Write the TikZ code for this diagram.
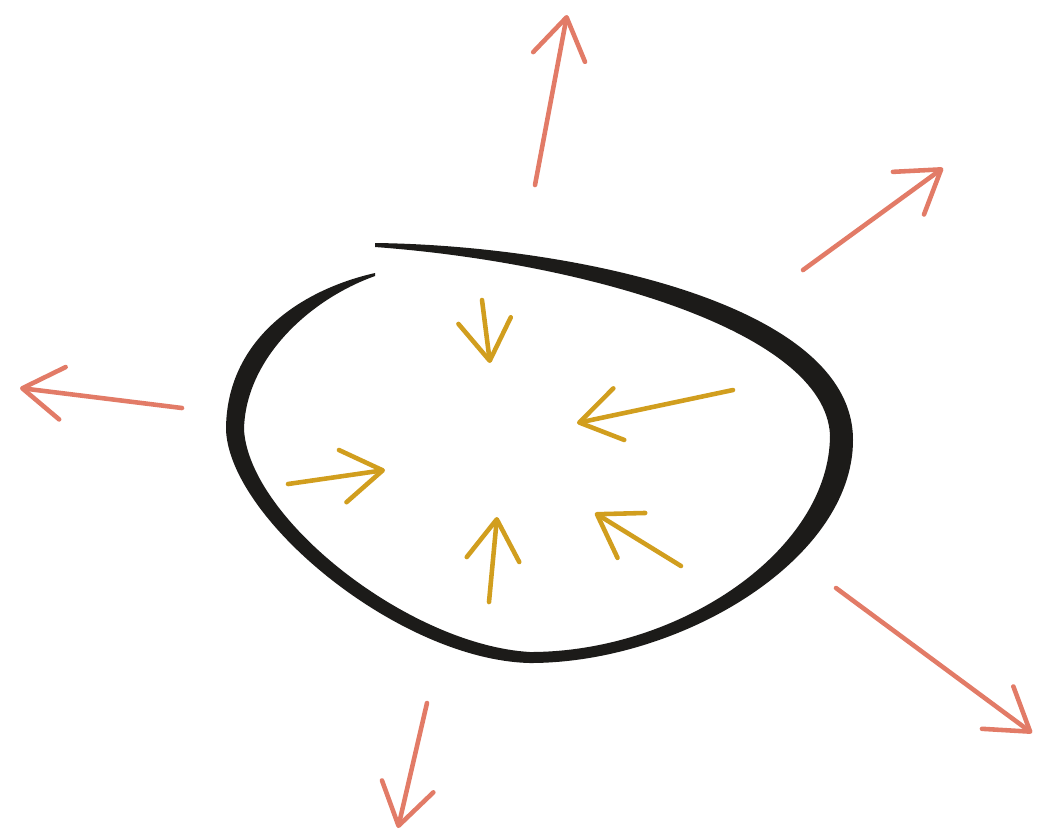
\documentclass[tikz,border=0pt]{standalone}
\usetikzlibrary{arrows.meta}
\definecolor{salmon}{HTML}{E27B67}
\definecolor{gold}{HTML}{D19E1E}
\definecolor{ink}{HTML}{1C1B19}
\tikzset{
  outarrow/.style={draw=salmon, line width=1.3pt, line cap=round, line join=round,
    -{Straight Barb[length=11.5pt,width=15pt,round]}},
  inarrow/.style={draw=gold, line width=1.3pt, line cap=round, line join=round,
    -{Straight Barb[length=11.5pt,width=15pt,round]}},
}
\begin{document}
\begin{tikzpicture}[x=0.01cm,y=-0.01cm]
\useasboundingbox (0,0) rectangle (1039,835);
% brush-stroke ring
\fill[ink] (375,243) .. controls (560,245) and (853,300) .. (853,440)
  .. controls (853,560) and (680,663) .. (530,663)
  .. controls (400,660) and (230,520) .. (226,430)
  .. controls (226,340) and (300,290) .. (375,273)
  -- (375,276)
  .. controls (308,300) and (245,360) .. (244,430)
  .. controls (250,520) and (410,645) .. (530,652)
  .. controls (680,652) and (830,550) .. (830,435)
  .. controls (825,330) and (580,262) .. (375,247) -- cycle;
% outward arrows
\coordinate (a1s) at (535,185); \coordinate (a1e) at (567,15);
\coordinate (a2s) at (803,270); \coordinate (a2e) at (943,168);
\coordinate (a3s) at (182,408); \coordinate (a3e) at (20,388);
\coordinate (a4s) at (836,588); \coordinate (a4e) at (1032,733);
\coordinate (a5s) at (427,703); \coordinate (a5e) at (398,828);
\draw[outarrow] (a1s) -- (a1e);
\draw[outarrow] (a2s) -- (a2e);
\draw[outarrow] (a3s) -- (a3e);
\draw[outarrow] (a4s) -- (a4e);
\draw[outarrow] (a5s) -- (a5e);
% inward arrows
\coordinate (g1s) at (482,300); \coordinate (g1e) at (490,363);
\coordinate (g2s) at (733,390); \coordinate (g2e) at (577,423);
\coordinate (g3s) at (288,484); \coordinate (g3e) at (385,470);
\coordinate (g4s) at (489,602); \coordinate (g4e) at (497,517);
\coordinate (g5s) at (681,566); \coordinate (g5e) at (595,513);
\draw[inarrow] (g1s) -- (g1e);
\draw[inarrow] (g2s) -- (g2e);
\draw[inarrow] (g3s) -- (g3e);
\draw[inarrow] (g4s) -- (g4e);
\draw[inarrow] (g5s) -- (g5e);
\end{tikzpicture}
\end{document}
